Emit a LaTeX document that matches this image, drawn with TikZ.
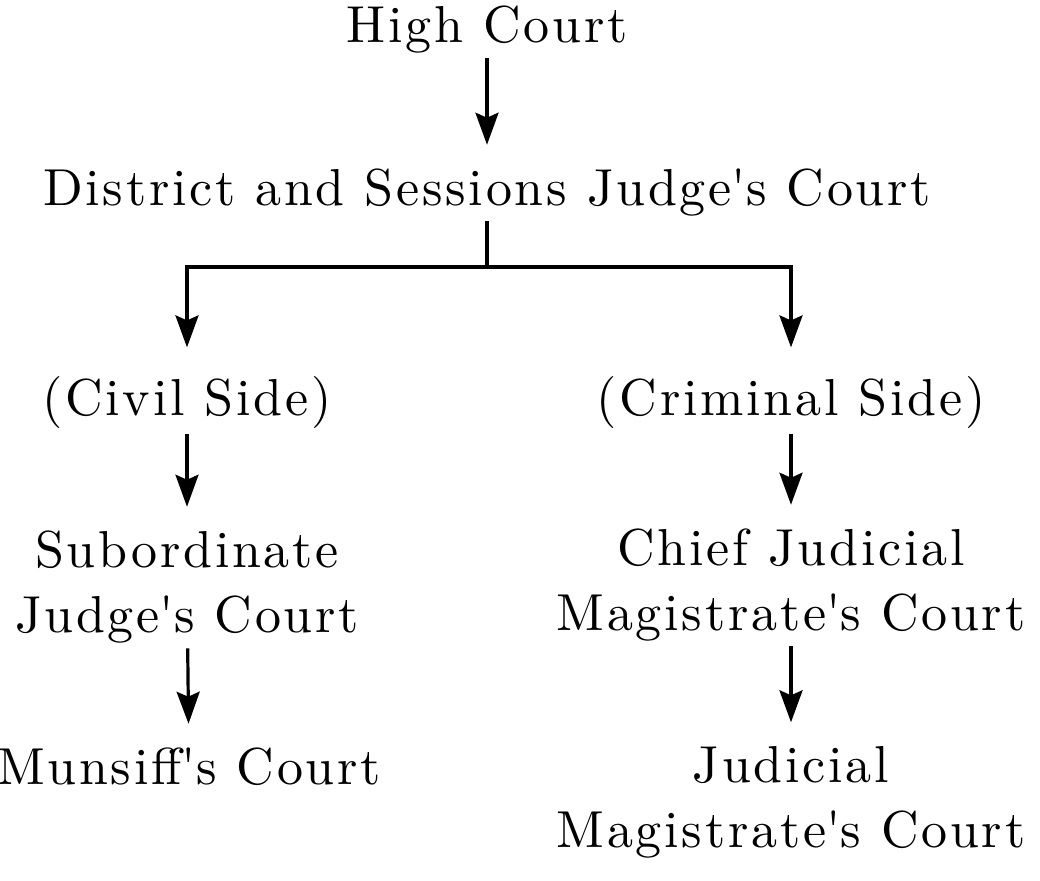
\documentclass[tikz,border=0pt]{standalone}
\usepackage{fontspec}
\newfontfamily\courtfont{lmroman10-regular.otf}[LetterSpace=5.3]
\usetikzlibrary{arrows.meta}

\begin{document}
\begin{tikzpicture}[x=0.5pt,y=-0.5pt,line width=1.6pt,
        court/.style={inner sep=0pt,align=center,anchor=base,
            font=\courtfont\fontsize{26}{32.5}\selectfont},
        link/.style={shorten <=2pt},
        arr/.style={-{Stealth[length=16pt,width=11.5pt,inset=2.5pt]},shorten >=11pt}]
    \useasboundingbox (0,0) rectangle (1040,880);
    \node[court] (high)     at (487,42)  {High Court};
    \node[court] (district) at (487,205) {District and Sessions Judge\textquotesingle s Court};
    \coordinate (split) at (487,267);
    \node[court] (civil)    at (187,415) {(Civil Side)};
    \node[court] (criminal) at (791,415) {(Criminal Side)};
    % base of a two-line node is its last line
    \node[court] (subord)   at (187,632) {Subordinate\\Judge\textquotesingle s Court};
    \node[court] (chief)    at (791,630) {Chief Judicial\\Magistrate\textquotesingle s Court};
    \node[court] (munsiff)  at (189,784) {Munsiff\textquotesingle s Court};
    \node[court] (judicial) at (791,847) {Judicial\\Magistrate\textquotesingle s Court};

    \draw[link,arr] (high) -- (district);
    \draw[link] (district) -- (split);
    \draw[arr,shorten >=13.5pt] (split) -| (civil);
    \draw[arr,shorten >=13.5pt] (split) -| (criminal);
    \draw[link,arr] (civil) -- (subord);
    \draw[link,arr] (subord) -- (munsiff);
    \draw[link,arr] (criminal) -- (chief);
    \draw[link,arr] (chief) -- (judicial);
\end{tikzpicture}
\end{document}
